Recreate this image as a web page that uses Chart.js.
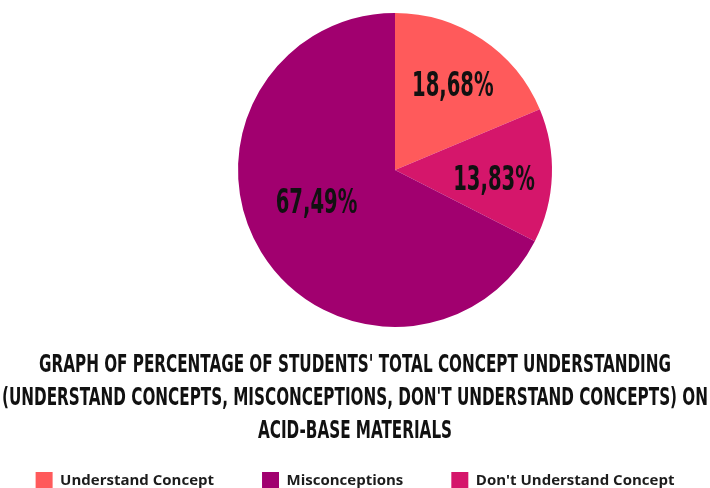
<!DOCTYPE html>
<html>
<head>
<meta charset="utf-8">
<script src="https://cdn.jsdelivr.net/npm/chart.js@4.4.1/dist/chart.umd.min.js"></script>
<style>
  html, body { margin: 0; padding: 0; background: #ffffff; }
  #c { display: block; }
</style>
</head>
<body>
<canvas id="c" width="710" height="488"></canvas>
<script>
// Share of students per understanding category, acid-base materials (%)
const categories = ['Understand Concept', "Don't Understand Concept", 'Misconceptions'];
const percentages = [18.68, 13.83, 67.49];
const sliceColors = ['#FF5A5B', '#D5166B', '#A1006F'];
const legendOrder = ['Understand Concept', 'Misconceptions', "Don't Understand Concept"];
const titleLines = [
  "GRAPH OF PERCENTAGE OF STUDENTS' TOTAL CONCEPT UNDERSTANDING",
  "(UNDERSTAND CONCEPTS, MISCONCEPTIONS, DON'T UNDERSTAND CONCEPTS) ON",
  "ACID-BASE MATERIALS"
];

const condensedFont = "'Liberation Sans Narrow', 'DejaVu Sans Condensed', 'Liberation Sans', sans-serif";

function formatPercent(v) {
  return v.toFixed(2).replace('.', ',') + '%';
}

// Draws text compressed horizontally around its anchor point.
function drawSqueezed(ctx, text, x, y, sx) {
  ctx.save();
  ctx.translate(x, y);
  ctx.scale(sx, 1);
  ctx.fillText(text, 0, 0);
  ctx.restore();
}

// Leaves room for the stacked title and legend under the pie and moves the pie to the right.
const pieLayout = {
  id: 'pieLayout',
  afterLayout(chart, args, opts) {
    const area = chart.chartArea;
    area.bottom = chart.height - opts.reservedBelow;
    area.height = area.bottom - area.top;
    area.left += opts.shiftX;
    area.width = area.right - area.left;
  }
};

// Multi-line condensed title between the pie and the legend.
const stackedTitle = {
  id: 'stackedTitle',
  afterDraw(chart, args, opts) {
    const ctx = chart.ctx;
    ctx.save();
    ctx.font = `bold ${opts.size}px ${condensedFont}`;
    ctx.fillStyle = opts.color;
    ctx.textAlign = 'center';
    ctx.textBaseline = 'alphabetic';
    const widest = Math.max(...opts.lines.map(l => ctx.measureText(l).width));
    const sx = Math.min(1, opts.maxWidth / widest);
    const cx = chart.width / 2;
    opts.lines.forEach((line, i) => {
      drawSqueezed(ctx, line, cx, chart.chartArea.bottom + opts.firstBaseline + i * opts.lineGap, sx);
    });
    ctx.restore();
  }
};

// Percentage printed inside each slice.
const sliceValueLabels = {
  id: 'sliceValueLabels',
  afterDatasetsDraw(chart, args, opts) {
    const ctx = chart.ctx;
    const meta = chart.getDatasetMeta(0);
    ctx.save();
    ctx.font = `bold ${opts.size}px ${condensedFont}`;
    ctx.fillStyle = opts.color;
    ctx.textAlign = 'center';
    ctx.textBaseline = 'middle';
    meta.data.forEach((arc, i) => {
      const p = arc.getProps(['x', 'y', 'startAngle', 'endAngle', 'outerRadius'], true);
      const mid = (p.startAngle + p.endAngle) / 2 + (opts.angleNudge[i] || 0) * Math.PI / 180;
      const r = p.outerRadius * opts.radius[i];
      const value = chart.data.datasets[0].data[i];
      drawSqueezed(ctx, formatPercent(value), p.x + Math.cos(mid) * r, p.y + Math.sin(mid) * r, opts.squeeze);
    });
    ctx.restore();
  }
};

new Chart(document.getElementById('c'), {
  type: 'pie',
  data: {
    labels: categories,
    datasets: [{
      data: percentages,
      backgroundColor: sliceColors,
      borderWidth: 0,
      hoverOffset: 0
    }]
  },
  plugins: [pieLayout, stackedTitle, sliceValueLabels],
  options: {
    responsive: false,
    devicePixelRatio: 1,
    animation: false,
    layout: { padding: { top: 13, left: -20, right: -20, bottom: -11 } },
    plugins: {
      tooltip: { enabled: false },
      title: { display: false },
      legend: {
        position: 'bottom',
        labels: {
          boxWidth: 17,
          boxHeight: 17,
          padding: 48,
          color: '#1c1c1c',
          font: { family: "'Open Sans', 'Noto Sans', sans-serif", size: 15, weight: 'bold' },
          sort: (a, b) => legendOrder.indexOf(a.text) - legendOrder.indexOf(b.text)
        }
      },
      pieLayout: { reservedBelow: 161, shiftX: 80 },
      stackedTitle: {
        lines: titleLines,
        size: 25,
        color: '#111111',
        maxWidth: 706,
        firstBaseline: 45,
        lineGap: 33
      },
      sliceValueLabels: {
        size: 33,
        color: '#111111',
        squeeze: 0.66,
        radius: [0.64, 0.635, 0.545],
        angleNudge: [1.5, 4.5, 8]
      }
    }
  }
});
</script>
</body>
</html>
